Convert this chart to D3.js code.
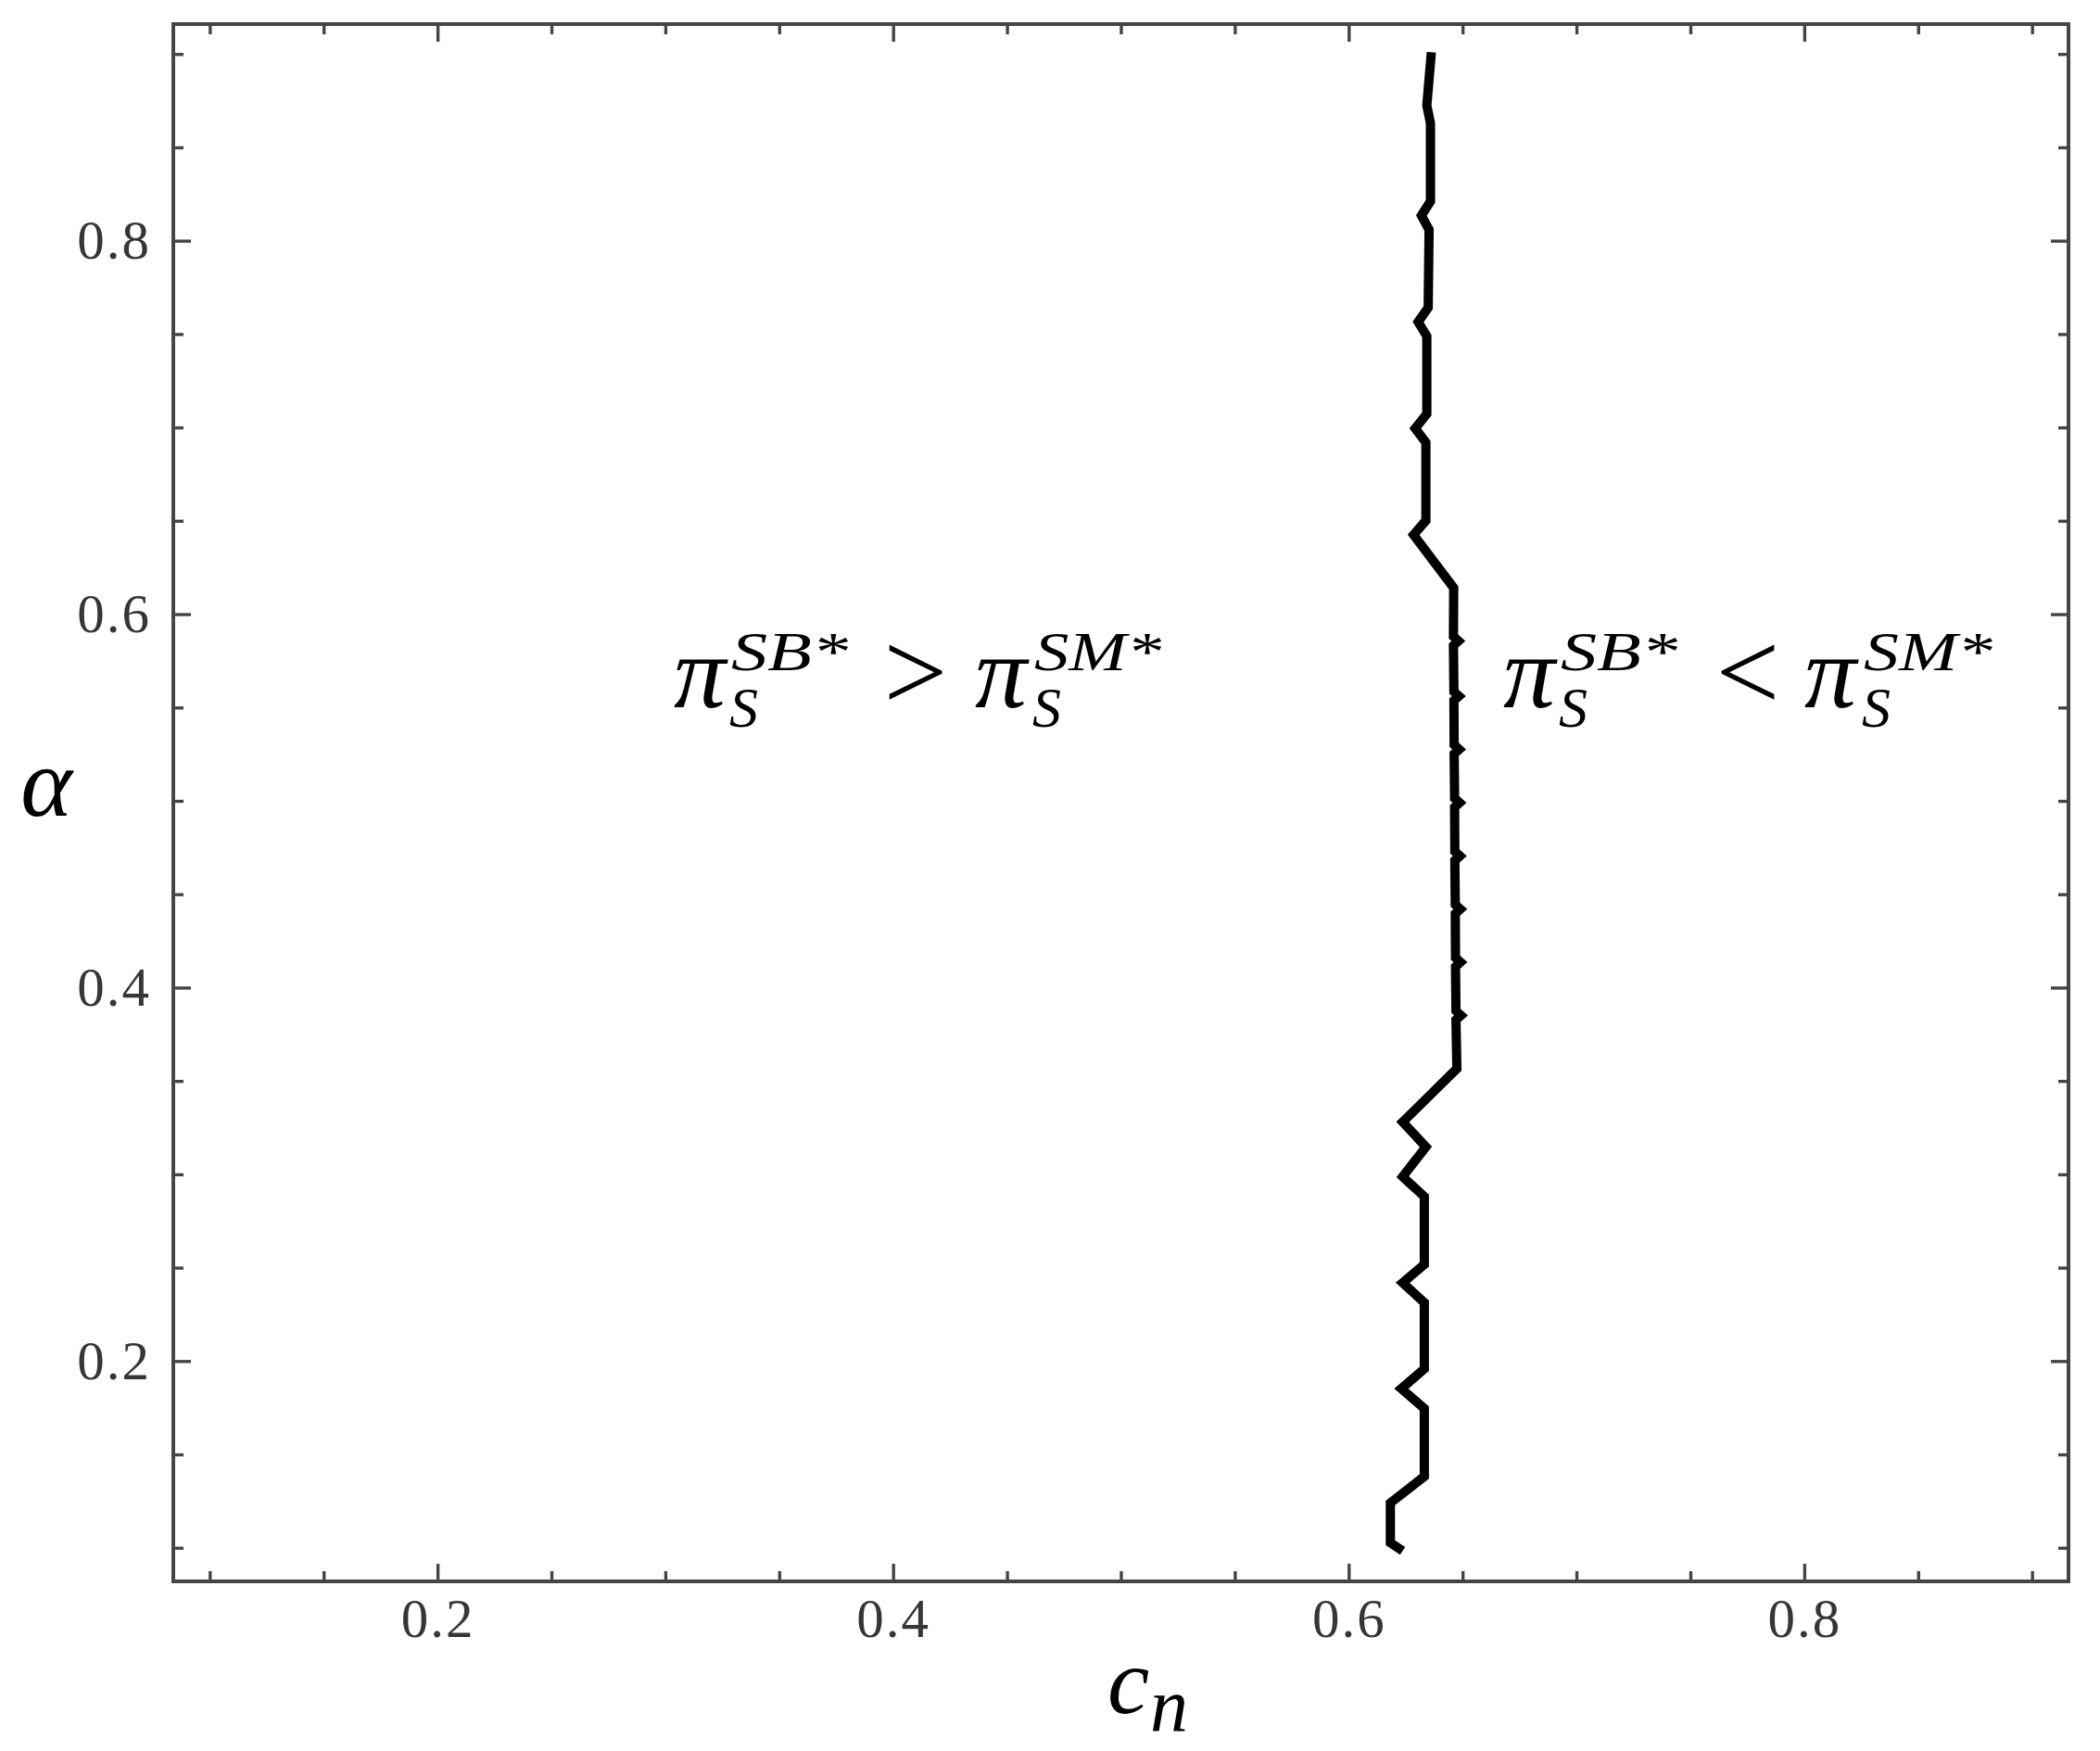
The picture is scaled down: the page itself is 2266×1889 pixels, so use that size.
<!DOCTYPE html>
<html>
<head>
<meta charset="utf-8">
<script src="https://cdn.jsdelivr.net/npm/d3@7/dist/d3.min.js"></script>
<style>
  html, body { margin: 0; padding: 0; background: #ffffff; }
  svg { display: block; }
</style>
</head>
<body>
<script>
// ---------- data ----------
const xMajorTicks = [0.2, 0.4, 0.6, 0.8];
const xTickLabels = ["0.2", "0.4", "0.6", "0.8"];
const yMajorTicks = [0.2, 0.4, 0.6, 0.8];
const yTickLabels = ["0.2", "0.4", "0.6", "0.8"];
const minorTicks = [0.1, 0.15, 0.25, 0.3, 0.35, 0.45, 0.5, 0.55, 0.65, 0.7, 0.75, 0.85, 0.9];

// boundary curve pi_S^SB* = pi_S^SM*  (c_n, alpha)
const boundaryCn = [
  0.6363, 0.6343, 0.6359, 0.6359, 0.6319, 0.6353, 0.6349, 0.6305, 0.6343, 0.6343,
  0.6292, 0.6339, 0.6339, 0.6285, 0.6461,
  0.6460, 0.6482, 0.6460,
  0.6462, 0.6484, 0.6462,
  0.6463, 0.6485, 0.6463,
  0.6465, 0.6487, 0.6465,
  0.6466, 0.6488, 0.6466,
  0.6468, 0.6490, 0.6468,
  0.6469, 0.6491, 0.6469,
  0.6471, 0.6493, 0.6471,
  0.6475, 0.6237, 0.6339, 0.6237, 0.6332, 0.6332, 0.6237, 0.6332, 0.6332, 0.6231,
  0.6332, 0.6332, 0.6183, 0.6183, 0.6237
];
const boundaryAlpha = [
  0.9009, 0.8724, 0.8629, 0.8211, 0.8135, 0.8059, 0.7641, 0.7565, 0.7489, 0.7072,
  0.6995, 0.6919, 0.6501, 0.6425, 0.6141,
  0.5880, 0.5856, 0.5832,
  0.5585, 0.5561, 0.5537,
  0.5300, 0.5276, 0.5252,
  0.5014, 0.4990, 0.4966,
  0.4729, 0.4705, 0.4681,
  0.4444, 0.4420, 0.4396,
  0.4160, 0.4136, 0.4112,
  0.3875, 0.3851, 0.3827,
  0.3566, 0.3280, 0.3147, 0.2987, 0.2881, 0.2517, 0.2419, 0.2313, 0.1958, 0.1852,
  0.1746, 0.1382, 0.1240, 0.1027, 0.0983
];

const xDomain = [0.084, 0.916];
const yDomain = [0.082, 0.916];

// ---------- layout ----------
const W = 2266, H = 1889;
const frame = { left: 187, right: 2232, top: 26, bottom: 1706 };
const axisColor = "#454545";
const tickFont = "'Liberation Serif', 'Times New Roman', serif";
const mathFont = "'Liberation Serif', 'Times New Roman', serif";

const svg = d3.select("body").append("svg")
  .attr("width", W).attr("height", H)
  .attr("viewBox", `0 0 ${W} ${H}`);

svg.append("rect").attr("width", W).attr("height", H).attr("fill", "#ffffff");

const x = d3.scaleLinear().domain(xDomain).range([frame.left, frame.right]);
const y = d3.scaleLinear().domain(yDomain).range([frame.bottom, frame.top]);

const majorLen = 19, minorLen = 11;

function styleAxis(g) {
  g.select(".domain").remove();
  g.selectAll(".tick line").attr("stroke", axisColor).attr("stroke-width", 3.4);
  g.selectAll(".tick text")
    .attr("fill", "#363636")
    .style("font-family", tickFont)
    .style("font-size", "59px")
    .style("letter-spacing", "2px");
}

// bottom axis
svg.append("g").attr("transform", `translate(0,${frame.bottom})`)
  .call(d3.axisBottom(x).tickValues(minorTicks).tickSizeInner(-minorLen).tickSizeOuter(0).tickFormat(""))
  .call(styleAxis);
svg.append("g").attr("transform", `translate(0,${frame.bottom})`)
  .call(d3.axisBottom(x).tickValues(xMajorTicks).tickSizeInner(-majorLen).tickSizeOuter(0)
        .tickPadding(18).tickFormat((d, i) => xTickLabels[i]))
  .call(styleAxis);

// top axis (ticks only)
svg.append("g").attr("transform", `translate(0,${frame.top})`)
  .call(d3.axisTop(x).tickValues(minorTicks).tickSizeInner(-minorLen).tickSizeOuter(0).tickFormat(""))
  .call(styleAxis);
svg.append("g").attr("transform", `translate(0,${frame.top})`)
  .call(d3.axisTop(x).tickValues(xMajorTicks).tickSizeInner(-majorLen).tickSizeOuter(0).tickFormat(""))
  .call(styleAxis);

// left axis
svg.append("g").attr("transform", `translate(${frame.left},0)`)
  .call(d3.axisLeft(y).tickValues(minorTicks).tickSizeInner(-minorLen).tickSizeOuter(0).tickFormat(""))
  .call(styleAxis);
svg.append("g").attr("transform", `translate(${frame.left},0)`)
  .call(d3.axisLeft(y).tickValues(yMajorTicks).tickSizeInner(-majorLen).tickSizeOuter(0)
        .tickPadding(24).tickFormat((d, i) => yTickLabels[i]))
  .call(styleAxis);

// right axis (ticks only)
svg.append("g").attr("transform", `translate(${frame.right},0)`)
  .call(d3.axisRight(y).tickValues(minorTicks).tickSizeInner(-minorLen).tickSizeOuter(0).tickFormat(""))
  .call(styleAxis);
svg.append("g").attr("transform", `translate(${frame.right},0)`)
  .call(d3.axisRight(y).tickValues(yMajorTicks).tickSizeInner(-majorLen).tickSizeOuter(0).tickFormat(""))
  .call(styleAxis);

// frame
svg.append("rect")
  .attr("x", frame.left).attr("y", frame.top)
  .attr("width", frame.right - frame.left).attr("height", frame.bottom - frame.top)
  .attr("fill", "none").attr("stroke", axisColor).attr("stroke-width", 4);

// boundary curve
const pts = boundaryCn.map((c, i) => ({ c, a: boundaryAlpha[i] }));
svg.append("path")
  .datum(pts)
  .attr("fill", "none")
  .attr("stroke", "#000000")
  .attr("stroke-width", 10)
  .attr("stroke-linejoin", "miter")
  .attr("stroke-miterlimit", 2)
  .attr("d", d3.line().x(d => x(d.c)).y(d => y(d.a)));

// ---------- text ----------
function textBlock() {
  return svg.append("text")
    .style("font-family", mathFont)
    .attr("fill", "#000000");
}
function piece(t, xp, yp, str, size, italic, anchor) {
  const s = t.append("tspan")
    .attr("x", xp).attr("y", yp)
    .style("font-style", italic ? "italic" : "normal")
    .style("font-size", size + "px")
    .text(str);
  if (anchor) s.attr("text-anchor", anchor);
  return s;
}

// axis titles
const alphaT = textBlock();
piece(alphaT, 50, 880, "α", 106, true, "middle");
const cnT = textBlock();
piece(cnT, 1195, 1848, "c", 102, true);
piece(cnT, 1241, 1867, "n", 82, true);

// region labels
function regionLabel(x0, supA, supAW, opX, op, x1, supB, supBW) {
  const t = textBlock();
  piece(t, x0 - 6, 763, "π", 112, true);
  piece(t, x0 + 56, 723, supA, 60, true).attr("textLength", supAW).attr("lengthAdjust", "spacingAndGlyphs");
  piece(t, x0 + 54, 784, "S", 62, true);
  piece(t, opX, 766, op, 122, false, "middle");
  piece(t, x1 - 6, 763, "π", 112, true);
  piece(t, x1 + 58, 723, supB, 60, true).attr("textLength", supBW).attr("lengthAdjust", "spacingAndGlyphs");
  piece(t, x1 + 56, 784, "S", 62, true);
}
regionLabel(733, "SB*", 126, 988, ">", 1058, "SM*", 137);
regionLabel(1628, "SB*", 126, 1886, "<", 1953, "SM*", 139);
</script>
</body>
</html>
